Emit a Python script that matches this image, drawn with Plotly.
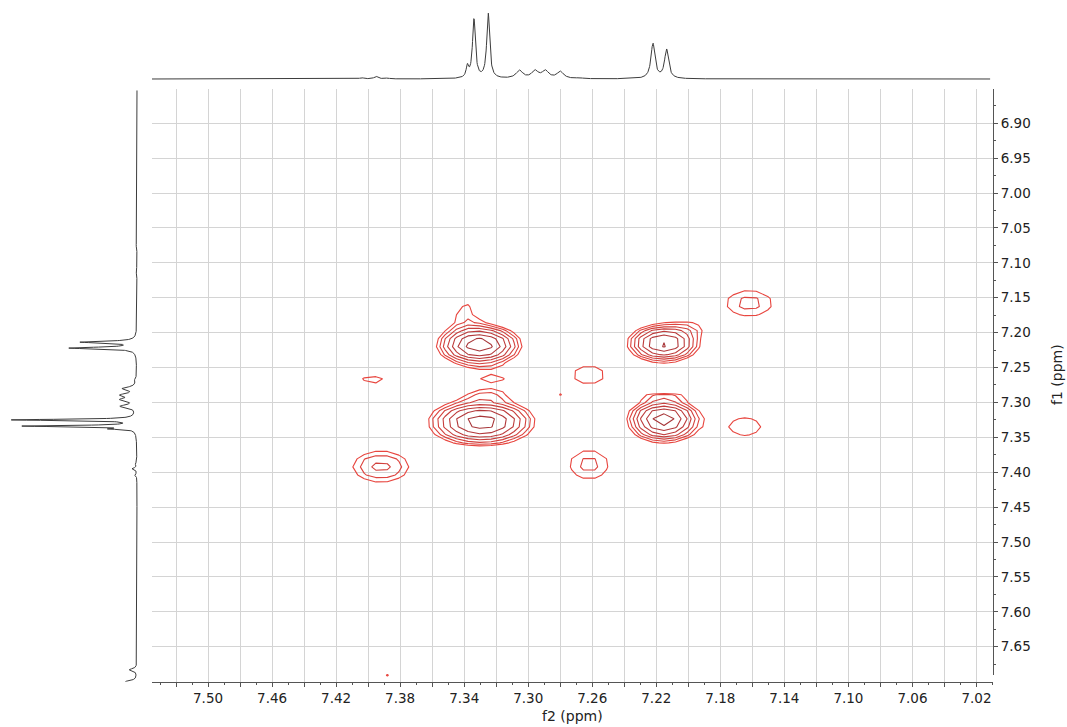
import numpy as np
import plotly.graph_objects as go

# ---------------- data ----------------
# 1D projection: peak list (ppm, height, FWHM in ppm); the top trace uses these heights,
# the left trace shows the same spectrum scaled by LEFT_SCALE
peak_ppm = [7.404, 7.395, 7.388, 7.338, 7.3339, 7.3250, 7.3055, 7.2958, 7.2893, 7.2800,
            7.268, 7.2221, 7.2136, 7.112, 7.075, 7.683, 7.700]
peak_height = [1.2, 2.5, 0.8, 11.0, 59.0, 65.0, 8.0, 7.5, 7.5, 7.0,
               0.8, 35.0, 29.0, 0.6, 0.5, 4.0, 6.0]
peak_fwhm = [0.003, 0.003, 0.003, 0.0018, 0.0022, 0.0022, 0.005, 0.005, 0.005, 0.005,
             0.004, 0.003, 0.003, 0.006, 0.006, 0.004, 0.004]
LEFT_SCALE = 1.9

# 2D cross peaks: f2, f1, amplitude (in units of the lowest contour), sigma f2, sigma f1
cp_f2 = [7.3306, 7.3290, 7.3300, 7.2154, 7.1980, 7.2154, 7.2154, 7.3395,
         7.1620, 7.1646, 7.2621, 7.2620, 7.3260, 7.3220, 7.2150, 7.2800,
         7.3920, 7.3970, 7.3880]
cp_f1 = [7.2180, 7.3260, 7.3450, 7.2152, 7.1920, 7.3230, 7.3450, 7.1700,
         7.1580, 7.3347, 7.2606, 7.3895, 7.2890, 7.2680, 7.2880, 7.2890,
         7.3920, 7.2680, 7.6910]
cp_amp = [9.5, 8.5, 1.5, 8.2, 1.0, 9.0, 1.5, 1.2,
          1.62, 1.25, 1.35, 1.6, 1.1, 1.15, 1.12, 1.02,
          2.2, 1.2, 1.015]
cp_s2 = [0.0127, 0.0160, 0.0160, 0.0112, 0.0090, 0.0110, 0.0110, 0.0080,
         0.0148, 0.0156, 0.0130, 0.0124, 0.0100, 0.0138, 0.0120, 0.0010,
         0.0140, 0.0120, 0.0130]
cp_s1 = [0.0146, 0.0155, 0.0120, 0.0139, 0.0090, 0.0142, 0.0100, 0.0200,
         0.0188, 0.0195, 0.0180, 0.0214, 0.0040, 0.0108, 0.0040, 0.0010,
         0.0180, 0.0120, 0.0200]
contour_base = 1.0
contour_ratio = 1.4
n_levels = 8

# digital resolution of the 2D data set (gives the polygonal contours)
f2_step = 0.0072
f1_step = 0.402 / 35
f2_origin = 7.280
f1_origin = 7.289

x_tick_vals = [7.52, 7.50, 7.48, 7.46, 7.44, 7.42, 7.40, 7.38, 7.36, 7.34, 7.32, 7.30, 7.28,
               7.26, 7.24, 7.22, 7.20, 7.18, 7.16, 7.14, 7.12, 7.10, 7.08, 7.06, 7.04, 7.02]
x_tick_text = ["", "7.50", "", "7.46", "", "7.42", "", "7.38", "", "7.34", "", "7.30", "",
               "7.26", "", "7.22", "", "7.18", "", "7.14", "", "7.10", "", "7.06", "", "7.02"]
y_tick_vals = [6.90, 6.95, 7.00, 7.05, 7.10, 7.15, 7.20, 7.25, 7.30, 7.35, 7.40, 7.45,
               7.50, 7.55, 7.60, 7.65]
y_tick_text = ["6.90", "6.95", "7.00", "7.05", "7.10", "7.15", "7.20", "7.25", "7.30",
               "7.35", "7.40", "7.45", "7.50", "7.55", "7.60", "7.65"]

# ---------------- geometry ----------------
W, H = 1067, 727
X_RANGE = [7.535, 7.0097]
Y_RANGE = [7.7006, 6.8509]
px = lambda v: v / W
py = lambda v: (H - v) / H
main_xdom = [px(152), px(993)]
main_ydom = [py(682), py(89)]

# ---------------- build traces ----------------
def spectrum(grid, scale=1.0):
    s = np.zeros_like(grid)
    for p, h, w in zip(peak_ppm, peak_height, peak_fwhm):
        s += scale * h / (1.0 + ((grid - p) / (w / 2.0)) ** 2)
    return s

top_ppm = np.linspace(7.535, 7.0115, 2600)
top_int = spectrum(top_ppm)
left_ppm = np.linspace(6.853, 7.700, 4200)
left_int = spectrum(left_ppm, LEFT_SCALE)

f2 = f2_origin + f2_step * np.arange(-40, 37)
f1 = f1_origin + f1_step * np.arange(-40, 38)
G2, G1 = np.meshgrid(f2, f1)
Z = np.zeros_like(G2)
for a, b, amp, s2, s1 in zip(cp_f2, cp_f1, cp_amp, cp_s2, cp_s1):
    Z += amp * np.exp(-((G2 - a) ** 2) / (2 * s2 ** 2) - ((G1 - b) ** 2) / (2 * s1 ** 2))
Zlog = np.log(Z / contour_base + 1e-12) / np.log(contour_ratio)

fig = go.Figure()
fig.add_trace(go.Contour(
    x=f2, y=f1, z=Zlog, xaxis="x", yaxis="y",
    contours=dict(coloring="lines", start=0, end=n_levels - 1, size=1, showlabels=False),
    line=dict(width=1.1, smoothing=0),
    colorscale=[[0, "#e8463f"], [1, "#9c3338"]], zmin=0, zmax=n_levels - 1,
    showscale=False, hoverinfo="skip",
))
fig.add_trace(go.Scatter(x=top_ppm, y=top_int, xaxis="x2", yaxis="y2", mode="lines",
                         line=dict(color="#3c3c3c", width=1), hoverinfo="skip"))
fig.add_trace(go.Scatter(x=left_int, y=left_ppm, xaxis="x3", yaxis="y3", mode="lines",
                         line=dict(color="#3c3c3c", width=1), hoverinfo="skip"))

tickfont = dict(family="DejaVu Sans", size=13.5, color="#222")
fig.update_layout(
    width=W, height=H, margin=dict(l=0, r=0, t=0, b=0),
    paper_bgcolor="white", plot_bgcolor="white", showlegend=False, hovermode=False,
    xaxis=dict(domain=main_xdom, range=X_RANGE, anchor="y", tickmode="array",
               tickvals=x_tick_vals, ticktext=x_tick_text, ticks="outside", ticklen=4,
               tickcolor="#555", tickwidth=1, showgrid=True, gridcolor="#d4d4d4", gridwidth=1,
               showline=True, linecolor="#555", linewidth=1, zeroline=False, tickfont=tickfont,
               minor=dict(tickmode="linear", tick0=7.0, dtick=0.01, ticks="outside", ticklen=2,
                          tickcolor="#555", showgrid=False)),
    yaxis=dict(domain=main_ydom, range=Y_RANGE, anchor="x", side="right", tickmode="array",
               tickvals=y_tick_vals, ticktext=y_tick_text, ticks="outside", ticklen=4,
               tickcolor="#555", tickwidth=1, showgrid=True, gridcolor="#d4d4d4", gridwidth=1,
               showline=False, zeroline=False, tickfont=tickfont,
               minor=dict(tickmode="linear", tick0=6.875, dtick=0.05, ticks="outside",
                          ticklen=2, tickcolor="#555", showgrid=False)),
    xaxis2=dict(domain=main_xdom, range=X_RANGE, anchor="y2", visible=False),
    yaxis2=dict(domain=[py(86), py(4)], range=[-7, 75], anchor="x2", visible=False),
    xaxis3=dict(domain=[0, px(150)], range=[137, -13], anchor="y3", visible=False),
    yaxis3=dict(domain=main_ydom, range=Y_RANGE, anchor="x3", visible=False),
    shapes=[dict(type="line", xref="paper", yref="paper", x0=px(993.5), x1=px(993.5),
                 y0=py(675), y1=py(89), line=dict(color="#555", width=1))],
    annotations=[
        dict(text="f2 (ppm)", xref="paper", yref="paper", x=px(572), y=py(716),
             xanchor="center", yanchor="middle", showarrow=False,
             font=dict(family="DejaVu Sans", size=14, color="#222")),
        dict(text="f1 (ppm)", xref="paper", yref="paper", x=px(1057), y=py(375),
             xanchor="center", yanchor="middle", showarrow=False, textangle=-90,
             font=dict(family="DejaVu Sans", size=14, color="#222")),
    ],
)
fig.write_html("out.html")
